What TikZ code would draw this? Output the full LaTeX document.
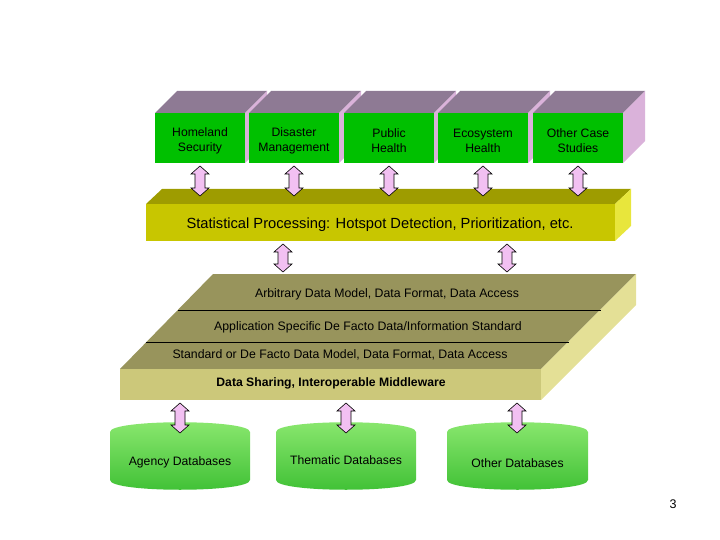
\documentclass[tikz,border=0pt]{standalone}
\usepackage{fontspec}
\setmainfont{Liberation Sans}
\definecolor{boxgreen}{RGB}{0,192,0}
\definecolor{boxtop}{RGB}{142,122,148}
\definecolor{boxside}{RGB}{218,178,218}
\definecolor{stattop}{RGB}{158,156,0}
\definecolor{statfront}{RGB}{200,198,0}
\definecolor{statside}{RGB}{232,230,60}
\definecolor{laytop}{RGB}{152,148,92}
\definecolor{layfront}{RGB}{204,200,122}
\definecolor{layside}{RGB}{228,224,150}
\definecolor{arrowpink}{RGB}{242,192,242}
\definecolor{dbtop}{RGB}{140,232,112}
\definecolor{dbbot}{RGB}{62,192,52}
\newcommand{\dblarr}[3]{%
  \draw[arrowline] (#1,#2) -- (#1+9,#2+8) -- (#1+5,#2+8) -- (#1+5,#3-8) -- (#1+9,#3-8)
    -- (#1,#3) -- (#1-9,#3-8) -- (#1-5,#3-8) -- (#1-5,#2+8) -- (#1-9,#2+8) -- cycle;}
\newcommand{\appcube}[3]{%
  \fill[boxtop] (#1,113) -- (#1+22,91) -- (#1+112,91) -- (#1+90,113) -- cycle;
  \fill[boxside] (#1+90,113) -- (#1+112,91) -- (#1+112,141) -- (#1+90,163) -- cycle;
  \fill[boxgreen] (#1,113) rectangle (#1+90,163);
  \node[apptext] (#2) at (#1+45,141) {#3};}
\newcommand{\dbcyl}[5]{%
  \shade[top color=dbtop, bottom color=dbbot]
    (#1,432) .. controls (#1,419) and (#2,419) .. (#2,432) -- (#2,480)
    .. controls (#2,493) and (#1,493) .. (#1,480) -- cycle;
  \node[dbtext] (#3) at ({(#1+#2)/2},#5) {#4};}
\begin{document}
\begin{tikzpicture}[x=1pt,y=-1pt,
  apptext/.style={inner sep=0pt, align=center, font=\fontsize{12.2}{14.8}\selectfont},
  arrowline/.style={draw=black, fill=arrowpink, line width=0.6pt, line join=miter},
  laytext/.style={font=\fontsize{12.3}{14}\selectfont, inner sep=0pt},
  dbtext/.style={font=\fontsize{12.2}{14}\selectfont, inner sep=0pt, anchor=base}]
\useasboundingbox (0,0) rectangle (720,540);
% application boxes
\appcube{155}{hs}{Homeland\\Security}
\appcube{249}{dm}{Disaster\\Management}
\appcube{344}{ph}{Public\\Health}
\appcube{438}{eh}{Ecosystem\\Health}
\appcube{533}{oc}{Other Case\\Studies}
% statistical processing bar
\fill[stattop] (146,204) -- (162,189) -- (631,189) -- (615,204) -- cycle;
\fill[statside] (615,204) -- (631,189) -- (631,226) -- (615,241) -- cycle;
\fill[statfront] (146,204) rectangle (615,241);
\node[font=\fontsize{14.7}{16}\selectfont, inner sep=0pt] (stat) at (380,225)
  {Statistical Processing: Hotspot Detection, Prioritization, etc.};
% layered slab
\fill[laytop] (213,274) -- (636,274) -- (541,369) -- (120,369) -- cycle;
\fill[layside] (541,369) -- (636,274) -- (636,305) -- (541,400) -- cycle;
\fill[layfront] (120,369) rectangle (541,400);
\draw[line width=0.7pt] (178,310) -- (601,310);
\draw[line width=0.7pt] (146,342) -- (569,342);
\node[laytext] (l1) at (387,294) {Arbitrary Data Model, Data Format, Data Access};
\node[laytext] (l2) at (368,327) {Application Specific De Facto Data/Information Standard};
\node[laytext] (l3) at (340,355) {Standard or De Facto Data Model, Data Format, Data Access};
\node[laytext, font=\fontsize{12.2}{14}\selectfont\bfseries] (l4) at (331,383) {Data Sharing, Interoperable Middleware};
% databases
\dbcyl{110}{250}{db1}{Agency Databases}{465}
\dbcyl{276}{416}{db2}{Thematic Databases}{464}
\dbcyl{447}{588}{db3}{Other Databases}{467}
% arrows
\dblarr{200}{166}{196}
\dblarr{294}{166}{196}
\dblarr{389}{166}{196}
\dblarr{483}{166}{196}
\dblarr{578}{166}{196}
\dblarr{283}{244}{272}
\dblarr{507}{244}{272}
\dblarr{180}{403}{433}
\dblarr{346}{403}{433}
\dblarr{517}{403}{433}
\node[font=\fontsize{12.5}{14}\selectfont, inner sep=0pt] (pg) at (673,504) {3};
\end{tikzpicture}
\end{document}
